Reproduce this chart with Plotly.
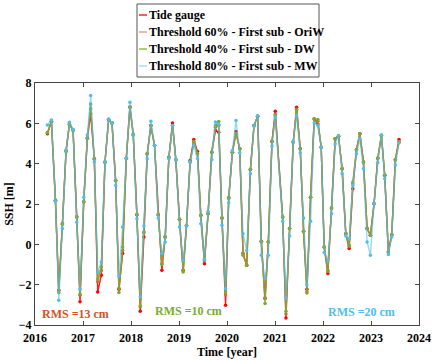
import plotly.graph_objects as go

years = [2016.259, 2016.342, 2016.426, 2016.495, 2016.571, 2016.647, 2016.717, 2016.793, 2016.869, 2016.938,
         2017.015, 2017.091, 2017.160, 2017.236, 2017.306, 2017.382, 2017.458, 2017.534, 2017.604, 2017.680,
         2017.749, 2017.825, 2017.902, 2017.978, 2018.047, 2018.123, 2018.193, 2018.269, 2018.338, 2018.414,
         2018.491, 2018.567, 2018.643, 2018.713, 2018.789, 2018.865, 2018.934, 2019.010, 2019.087, 2019.156,
         2019.232, 2019.308, 2019.385, 2019.454, 2019.530, 2019.606, 2019.683, 2019.759, 2019.828, 2019.895,
         2019.970, 2020.036, 2020.112, 2020.188, 2020.265, 2020.334, 2020.410, 2020.487, 2020.563, 2020.639,
         2020.715, 2020.792, 2020.861, 2020.937, 2021.006, 2021.159, 2021.228, 2021.304, 2021.380, 2021.450,
         2021.526, 2021.595, 2021.665, 2021.741, 2021.817, 2021.893, 2021.963, 2022.025, 2022.101, 2022.178,
         2022.254, 2022.323, 2022.399, 2022.475, 2022.545, 2022.621, 2022.697, 2022.767, 2022.843, 2022.919,
         2022.988, 2023.064, 2023.141, 2023.217, 2023.286, 2023.362, 2023.432, 2023.508, 2023.584]

tide_gauge = [5.48, 6.10, 2.18, -2.28, 1.02, 4.65, 5.97, 5.68, 1.35, -2.85,
              2.10, 5.26, 6.47, 4.24, -2.36, -1.53, 4.08, 6.19, 6.02, 3.17,
              -2.23, -0.46, 4.27, 6.80, 5.43, 1.47, -3.32, 0.36, 4.49, 5.89,
              4.90, 1.47, -1.29, 0.36, 4.32, 6.02, 4.20, 1.24, -1.29, 0.94,
              4.16, 5.20, 4.60, 1.44, -0.96, 1.52, 4.57, 5.64, 5.56, 1.30,
              -3.02, 2.30, 4.57, 5.59, 4.74, -0.46, -1.04, 3.71, 5.89, 6.35,
              0.15, -2.66, 0.12, 5.10, 6.60, 1.35, -3.65, 0.78, 5.07, 6.80,
              4.74, 0.65, -2.23, 2.34, 6.22, 5.97, 4.82, -0.13, -1.45, 1.80,
              5.23, 5.36, 3.75, 0.53, -0.21, 2.76, 4.69, 5.48, 4.08, 0.78,
              0.45, 2.01, 4.27, 5.40, 3.42, -0.38, 0.48, 4.20, 5.20]

oriw_60 = [5.55, 6.10, 2.18, -2.28, 1.02, 4.62, 5.95, 5.66, 1.38, -2.52,
           2.10, 5.28, 6.72, 4.24, -1.86, -1.30, 4.08, 6.19, 6.02, 3.17,
           -2.18, -0.30, 4.27, 6.80, 5.43, 1.47, -3.10, 0.61, 4.49, 5.89,
           4.90, 1.47, -0.96, 0.36, 4.32, 5.89, 4.20, 1.24, -1.29, 0.94,
           4.08, 5.10, 4.50, 1.44, -0.80, 1.52, 4.57, 5.80, 5.90, 1.30,
           -2.50, 2.34, 4.57, 5.50, 4.74, -0.46, -1.04, 3.71, 5.89, 6.35,
           0.15, -2.70, 0.12, 5.10, 6.45, 1.35, -3.45, 0.78, 5.07, 6.70,
           4.74, 0.65, -2.35, 2.34, 6.22, 6.10, 4.82, -0.13, -1.35, 1.80,
           5.23, 5.36, 3.75, 0.53, -0.10, 3.00, 4.69, 5.48, 4.08, 0.78,
           0.45, 2.01, 4.27, 5.40, 3.42, -0.38, 0.48, 4.20, 5.10]

dw_40 = [5.53, 6.08, 2.18, -2.39, 0.98, 4.60, 5.92, 5.65, 1.36, -2.48,
         2.12, 5.26, 6.96, 4.22, -1.72, -1.12, 4.06, 6.17, 6.02, 3.17,
         -2.39, -0.13, 4.25, 6.82, 5.43, 1.47, -3.05, 0.58, 4.49, 5.89,
         4.90, 1.47, -1.00, 0.38, 4.32, 5.89, 4.20, 1.24, -1.37, 0.94,
         4.08, 5.07, 4.49, 1.44, -0.71, 1.52, 4.57, 5.89, 6.09, 1.30,
         -2.36, 2.26, 4.57, 5.48, 4.74, -0.54, -1.04, 3.71, 5.89, 6.35,
         0.12, -2.94, 0.12, 5.10, 6.39, 1.35, -3.32, 0.78, 5.07, 6.63,
         4.74, 0.61, -2.41, 2.34, 6.22, 6.19, 4.82, -0.13, -1.29, 1.80,
         5.23, 5.36, 3.75, 0.53, -0.05, 3.09, 4.69, 5.48, 4.08, 0.78,
         0.45, 2.01, 4.27, 5.40, 3.42, -0.38, 0.48, 4.20, 5.07]

mw_80 = [5.92, 6.17, 2.12, -2.77, 0.78, 4.65, 6.05, 5.70, 1.10, -2.23,
         2.34, 5.43, 7.38, 4.08, -1.37, -0.87, 4.08, 6.22, 6.02, 2.92,
         -1.57, 0.86, 4.27, 7.05, 5.40, 1.27, -2.60, 0.91, 4.24, 6.10,
         4.90, 1.30, -0.46, 0.12, 4.24, 5.89, 4.20, 0.86, -0.79, 0.91,
         4.08, 4.90, 4.24, 1.02, -0.75, 1.63, 4.20, 6.06, 5.95, 0.95,
         -2.19, 2.06, 4.65, 6.14, 4.54, 0.53, -0.30, 3.50, 5.86, 6.38,
         -0.54, -1.70, -0.54, 4.87, 6.30, 1.14, -2.66, 0.41, 5.10, 6.39,
         4.54, 1.30, -2.00, 1.14, 6.02, 5.89, 4.82, -0.41, -0.79, 1.52,
         4.98, 5.40, 3.50, 0.41, 0.28, 2.92, 4.49, 5.23, 3.75, 0.12,
         -0.54, 2.01, 4.04, 5.43, 3.25, -0.51, 0.36, 3.94, 5.03]

series_names = ["Tide gauge",
                "Threshold 60% - First sub - OriW",
                "Threshold 40% - First sub - DW",
                "Threshold 80% - First sub - MW"]
x_ticks = [2016, 2017, 2018, 2019, 2020, 2021, 2022, 2023, 2024]
y_ticks = [-4, -2, 0, 2, 4, 6, 8]
rms_labels = ["RMS =13 cm", "RMS =10 cm", "RMS =20 cm"]

FONT = "Liberation Serif"
line_cols = ["rgba(255,0,0,0.9)", "rgba(217,120,70,0.75)", "rgba(119,172,48,0.85)", "rgba(77,190,238,0.6)"]
marker_cols = ["#ff0000", "#c8703a", "#77ac30", "#4dbeee"]
legend_cols = ["#ff2020", "#e8a585", "#8cbf4a", "#a8dcf2"]
rms_cols = ["#d95319", "#77ac30", "#4dbeee"]

fig = go.Figure()
for name, vals, lc, mc in zip(series_names, [tide_gauge, oriw_60, dw_40, mw_80], line_cols, marker_cols):
    fig.add_trace(go.Scatter(x=years, y=vals, mode="lines+markers", name=name,
                             line=dict(color=lc, width=1.4),
                             marker=dict(color=mc, size=3.5, symbol="circle"),
                             showlegend=False))

# manual compact legend (paper coords of plot area: x 35..419 px, y 83..325 px)
def px2paper_x(px):
    return (px - 35) / 384.0

def px2paper_y(py):
    return (325 - py) / 242.0

shapes = [dict(type="rect", xref="paper", yref="paper",
               x0=px2paper_x(137), x1=px2paper_x(319), y0=px2paper_y(77), y1=px2paper_y(4),
               line=dict(color="#555555", width=1), fillcolor="white")]
annotations = []
rows = [15, 32, 49, 66]
for name, col, py in zip(series_names, legend_cols, rows):
    shapes.append(dict(type="line", xref="paper", yref="paper",
                       x0=px2paper_x(139), x1=px2paper_x(147), y0=px2paper_y(py), y1=px2paper_y(py),
                       line=dict(color=col, width=1.5)))
    annotations.append(dict(xref="paper", yref="paper", x=px2paper_x(146.5), y=px2paper_y(py),
                            xanchor="left", yanchor="middle", showarrow=False, text=name,
                            font=dict(family=FONT, size=12, color="black", weight="bold")))

rms_pos = [(2016.85, -3.45), (2019.2, -3.3), (2022.8, -3.35)]
for txt, col, (xx, yy) in zip(rms_labels, rms_cols, rms_pos):
    annotations.append(dict(x=xx, y=yy, xref="x", yref="y", text=txt, showarrow=False,
                            font=dict(family=FONT, size=12, color=col, weight="bold")))

axis_common = dict(showline=True, linecolor="#444444", linewidth=1, mirror="allticks",
                   ticks="inside", ticklen=4, tickcolor="#444444", showgrid=False, zeroline=False,
                   automargin=False,
                   tickfont=dict(family=FONT, size=12, color="black", weight="bold"))

fig.update_layout(
    width=432, height=360,
    margin=dict(l=35, r=13, t=83, b=35),
    paper_bgcolor="white", plot_bgcolor="white",
    shapes=shapes, annotations=annotations,
    hovermode=False,
    xaxis=dict(range=[2016, 2024], tickvals=x_ticks, **axis_common, ticklabelstandoff=2,
               title=dict(text="Time [year]", standoff=0,
                          font=dict(family=FONT, size=12, color="black", weight="bold"))),
    yaxis=dict(range=[-4, 8], tickvals=y_ticks, **axis_common,
               title=dict(text="SSH [m]", standoff=2,
                          font=dict(family=FONT, size=12, color="black", weight="bold"))),
)

fig.write_html("out.html", config={"displayModeBar": False, "staticPlot": True},
               post_script="document.body.style.margin='0';document.body.style.overflow='hidden';")
